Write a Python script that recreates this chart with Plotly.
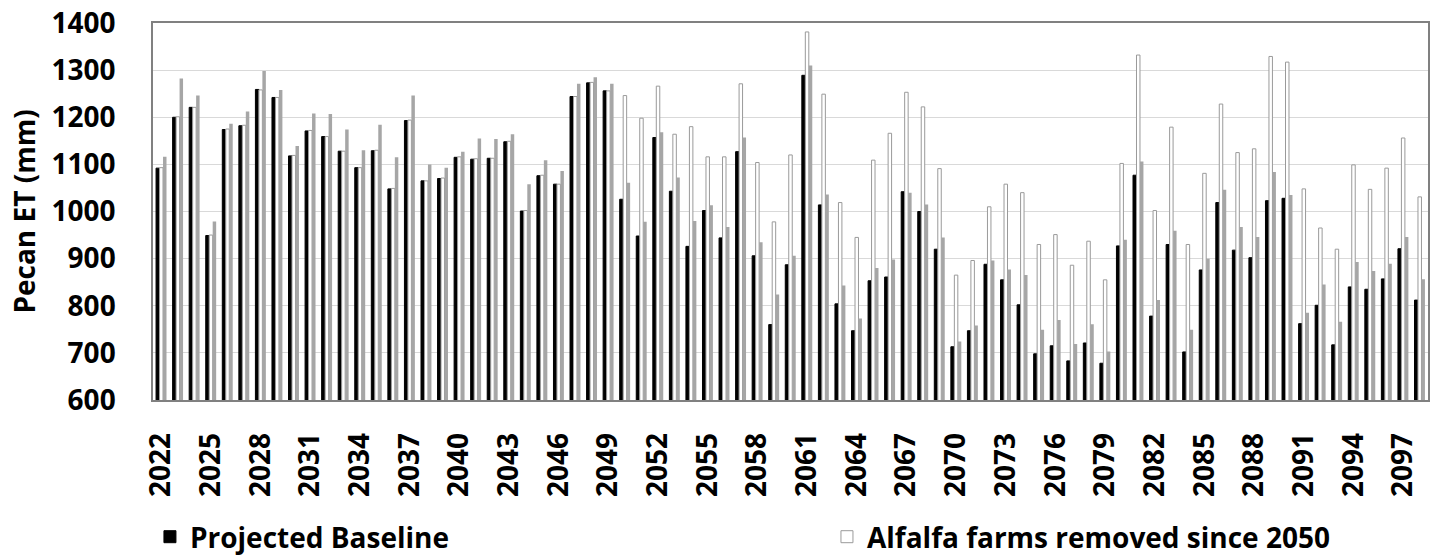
import plotly.graph_objects as go

# Projected pecan evapotranspiration per year, mm
years = list(range(2022, 2099))

projected_baseline = [
    1092, 1200, 1221, 949, 1174, 1182, 1259, 1242, 1118, 1171,
    1159, 1128, 1093, 1129, 1048, 1193, 1065, 1070, 1115, 1111,
    1113, 1148, 1001, 1076, 1058, 1244, 1273, 1256, 1026, 948,
    1157, 1043, 926, 1002, 944, 1127, 906, 760, 887, 1289,
    1014, 804, 747, 853, 861, 1042, 1000, 920, 713, 747,
    888, 855, 802, 698, 715, 683, 721, 678, 927, 1077,
    778, 930, 702, 876, 1019, 918, 902, 1023, 1028, 762,
    801, 717, 840, 835, 857, 921, 812,
]

alfalfa_removed_2050 = [
    1093, 1201, 1221, 950, 1175, 1183, 1258, 1242, 1119, 1172,
    1159, 1128, 1093, 1130, 1049, 1194, 1065, 1071, 1116, 1112,
    1113, 1149, 1002, 1077, 1058, 1244, 1274, 1256, 1246, 1198,
    1266, 1164, 1180, 1116, 1116, 1271, 1104, 978, 1120, 1381,
    1249, 1019, 945, 1109, 1166, 1253, 1222, 1091, 865, 896,
    1010, 1058, 1040, 930, 951, 886, 937, 855, 1102, 1332,
    1002, 1179, 930, 1081, 1228, 1125, 1133, 1329, 1317, 1048,
    965, 920, 1099, 1047, 1092, 1156, 1031,
]

scenario_gray = [
    1116, 1282, 1246, 979, 1186, 1212, 1298, 1258, 1139, 1208,
    1207, 1174, 1130, 1184, 1115, 1246, 1100, 1093, 1127, 1155,
    1154, 1164, 1058, 1109, 1086, 1271, 1285, 1271, 1061, 978,
    1168, 1072, 980, 1013, 967, 1157, 935, 824, 906, 1310,
    1036, 843, 773, 880, 898, 1040, 1015, 945, 724, 758,
    896, 877, 865, 749, 770, 719, 761, 703, 940, 1106,
    812, 959, 749, 900, 1046, 967, 946, 1084, 1035, 785,
    845, 766, 893, 874, 889, 946, 856,
]

tick_years = years[::3]

FONT = "'Open Sans', 'Noto Sans', sans-serif"
SIZE = 28

fig = go.Figure()
fig.add_trace(go.Bar(
    x=years, y=projected_baseline, name="Projected Baseline",
    marker=dict(color="#000000", line=dict(color="#000000", width=1)),
    legend="legend",
))
fig.add_trace(go.Bar(
    x=years, y=alfalfa_removed_2050, name="Alfalfa farms removed since 2050",
    marker=dict(color="#ffffff", line=dict(color="#9a9a9a", width=1)),
    legend="legend2",
))
fig.add_trace(go.Bar(
    x=years, y=scenario_gray, name="Scenario",
    marker=dict(color="#a6a6a6", line=dict(width=0)),
    showlegend=False,
))

legend_common = dict(
    orientation="h",
    yref="container", y=1 - 537 / 558, yanchor="middle",
    xanchor="left",
    font=dict(family=FONT, size=SIZE, weight="bold", color="#000000"),
    itemwidth=30,
    bgcolor="rgba(0,0,0,0)",
)

fig.update_layout(
    width=1438, height=558,
    margin=dict(l=153, r=10, t=23, b=158, autoexpand=False),
    paper_bgcolor="white", plot_bgcolor="white",
    barmode="group", bargap=0.37, bargroupgap=0,
    font=dict(family=FONT, color="#000000"),
    legend=dict(x=-0.0024, **legend_common),
    legend2=dict(x=0.5286, **legend_common),
)

fig.update_xaxes(
    range=[2021.5, 2098.5],
    tickmode="array", tickvals=tick_years, ticktext=[str(y) for y in tick_years],
    tickangle=-90,
    tickfont=dict(family=FONT, size=SIZE, weight="bold"),
    ticklabelstandoff=20,
    showgrid=False,
    showline=True, linecolor="#808080", linewidth=1.5, mirror=True,
    ticks="",
)
fig.update_yaxes(
    range=[600, 1400], dtick=100,
    tickfont=dict(family=FONT, size=SIZE, weight="bold"),
    ticklabelstandoff=30,
    showgrid=True, gridcolor="#d9d9d9", gridwidth=1,
    showline=True, linecolor="#808080", linewidth=1.5, mirror=True,
    ticks="",
    zeroline=False,
    title=dict(text="Pecan ET (mm)", font=dict(family=FONT, size=SIZE, weight="bold"), standoff=8),
)

fig.write_html("out.html")
